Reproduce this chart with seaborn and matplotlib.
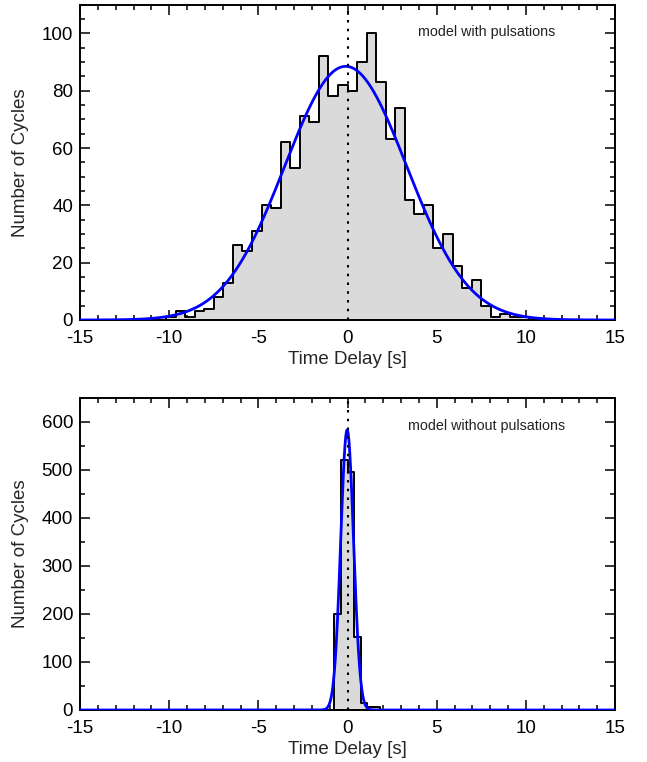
import numpy as np
import pandas as pd
import matplotlib
matplotlib.use("Agg")
import matplotlib.pyplot as plt
import seaborn as sns
from matplotlib.ticker import MultipleLocator

# ---------------- data ----------------
# Top panel: model with pulsations (counts per bin, bins start at index top_first_bin)
top_bin_width = 30 / 56
top_first_bin = -19
top_counts = [1, 3, 1, 3, 4, 8, 13, 26, 24, 31, 40, 39, 62, 53, 71, 69, 92, 78, 82,
              80, 90, 100, 83, 63, 74, 42, 37, 40, 25, 30, 19, 11, 14, 5, 1, 2, 1, 1]
top_fit_amp, top_fit_mu, top_fit_sigma = 88.5, -0.1, 3.42
top_label = "model with pulsations"

# Bottom panel: model without pulsations
bottom_bin_width = 0.37
bottom_first_bin = -2
bottom_counts = [200, 520, 495, 152, 15, 7, 7]
bottom_fit_amp, bottom_fit_mu, bottom_fit_sigma = 583, -0.02, 0.36
bottom_label = "model without pulsations"

x_ticks = [-15, -10, -5, 0, 5, 10, 15]
top_yticks = [0, 20, 40, 60, 80, 100]
bottom_yticks = [0, 100, 200, 300, 400, 500, 600]

# ---------------- styling ----------------
sns.set_style("ticks")
plt.rcParams["font.family"] = ["Liberation Sans", "DejaVu Sans"]

fig = plt.figure(figsize=(6.47, 7.62), dpi=100)
ax1 = fig.add_axes([80 / 647, 1 - 320 / 762, 535 / 647, 315.3 / 762])
ax2 = fig.add_axes([80 / 647, 1 - 710 / 762, 535 / 647, 312.3 / 762])


def panel(ax, counts, first, bw, amp, mu, sig, ymax, yticks, yminor, label, label_xy):
    edges = [(first + i) * bw for i in range(len(counts) + 1)]
    centers = [(edges[i] + edges[i + 1]) / 2 for i in range(len(counts))]
    df = pd.DataFrame({"delay": centers, "count": counts})
    sns.histplot(data=df, x="delay", weights="count", bins=edges, element="step",
                 fill=True, facecolor="#dadada", edgecolor="black", linewidth=1.4,
                 ax=ax, zorder=2)
    xs = np.linspace(-15, 15, 1501)
    fit = pd.DataFrame({"x": xs, "y": amp * np.exp(-0.5 * ((xs - mu) / sig) ** 2)})
    sns.lineplot(data=fit, x="x", y="y", color="#0000ff", linewidth=2.0, ax=ax, zorder=3)
    ax.axvline(0, color="black", linestyle=(0, (1.2, 3)), linewidth=1.5, zorder=4)

    ax.set_xlim(-15, 15)
    ax.set_ylim(0, ymax)
    ax.set_xticks(x_ticks)
    ax.set_xticklabels([str(t) for t in x_ticks])
    ax.xaxis.set_minor_locator(MultipleLocator(1))
    ax.set_yticks(yticks)
    ax.set_yticklabels([str(t) for t in yticks])
    ax.yaxis.set_minor_locator(MultipleLocator(yminor))
    ax.tick_params(which="both", direction="in", top=True, right=True, width=1.1,
                   labelsize=13.5, colors="black")
    ax.tick_params(which="major", length=7.2)
    ax.tick_params(which="minor", length=3.6)
    ax.tick_params(axis="x", pad=7.5)
    ax.tick_params(axis="y", pad=5)
    for s in ax.spines.values():
        s.set_linewidth(1.4)
        s.set_color("black")
        s.set_visible(True)
    ax.set_xlabel("Time Delay [s]", fontsize=13.5, labelpad=2.5)
    ax.set_ylabel("Number of Cycles", fontsize=13.5, labelpad=9)
    ax.text(label_xy[0], label_xy[1], label, fontsize=10.3, va="center", ha="left",
            color="#222222", zorder=5)


panel(ax1, top_counts, top_first_bin, top_bin_width, top_fit_amp, top_fit_mu,
      top_fit_sigma, 110, top_yticks, 5, top_label, (3.95, 100.5))
panel(ax2, bottom_counts, bottom_first_bin, bottom_bin_width, bottom_fit_amp,
      bottom_fit_mu, bottom_fit_sigma, 650, bottom_yticks, 50, bottom_label, (3.4, 592))

fig.savefig("out.png", dpi=100)
